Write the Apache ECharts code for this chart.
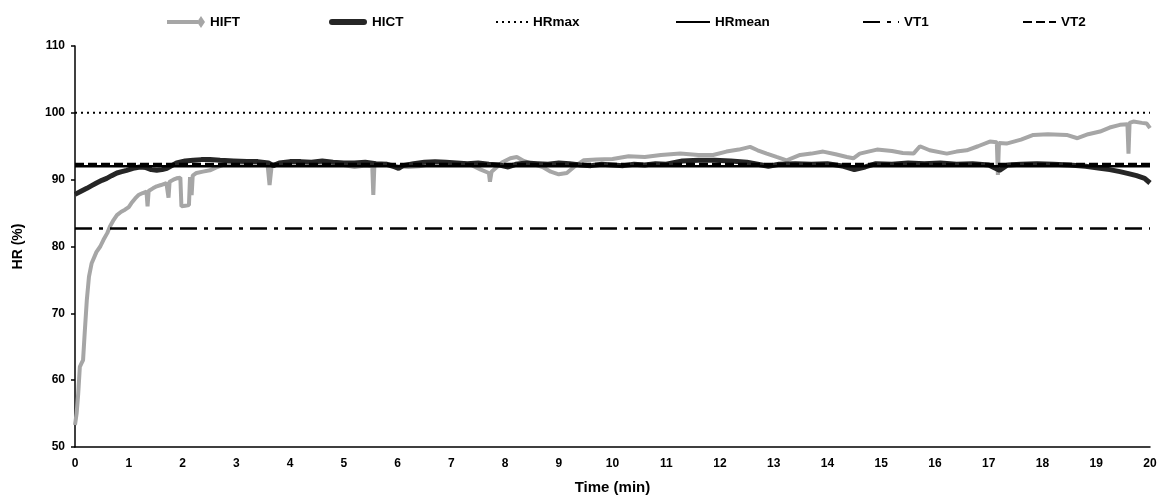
<!DOCTYPE html>
<html>
<head>
<meta charset="utf-8">
<script src="https://cdn.jsdelivr.net/npm/echarts@6/dist/echarts.min.js"></script>
<style>
  html, body { margin: 0; padding: 0; background: #fff; }
  #chart { width: 1157px; height: 496px; }
</style>
</head>
<body>
<div id="chart"></div>
<script>
// HIFT heart rate, [time (min), HR (%)]
const hiftData = [
  [0.00, 53.3], [0.03, 55.0], [0.06, 58.0], [0.09, 62.0], [0.12, 62.5], [0.15, 63.0],
  [0.18, 67.0], [0.22, 72.0], [0.26, 75.5], [0.31, 77.5], [0.40, 79.2], [0.47, 80.0],
  [0.53, 81.0], [0.60, 82.0], [0.65, 83.0], [0.72, 84.0], [0.78, 84.7], [0.86, 85.2],
  [0.93, 85.5], [1.00, 85.9], [1.05, 86.5], [1.12, 87.2], [1.18, 87.7], [1.26, 88.0],
  [1.33, 88.2], [1.35, 86.0], [1.37, 88.3], [1.45, 88.7], [1.52, 89.0], [1.60, 89.2],
  [1.70, 89.5], [1.74, 87.3], [1.76, 89.7], [1.83, 90.0], [1.89, 90.2], [1.96, 90.3],
  [1.98, 86.0], [2.05, 86.1], [2.12, 86.2], [2.14, 90.4], [2.17, 87.7], [2.19, 90.6],
  [2.26, 91.0], [2.38, 91.2], [2.51, 91.4], [2.62, 91.8], [2.76, 92.2], [2.90, 92.3],
  [3.05, 92.2], [3.20, 92.4], [3.40, 92.3], [3.58, 92.5], [3.62, 89.2], [3.66, 92.2],
  [3.80, 92.4], [4.00, 92.3], [4.20, 92.5], [4.40, 92.3], [4.60, 92.2], [4.80, 92.4],
  [5.00, 92.2], [5.20, 91.9], [5.40, 92.1], [5.53, 92.0], [5.55, 87.7], [5.57, 92.2],
  [5.80, 92.4], [6.00, 92.0], [6.20, 91.9], [6.40, 92.0], [6.60, 92.3], [6.80, 92.4],
  [7.00, 92.2], [7.20, 92.5], [7.40, 92.1], [7.55, 91.5], [7.70, 91.0], [7.72, 89.7],
  [7.75, 91.2], [7.85, 91.9], [7.95, 92.6], [8.10, 93.2], [8.22, 93.4], [8.35, 92.8],
  [8.50, 92.4], [8.70, 91.9], [8.85, 91.2], [9.00, 90.8], [9.15, 91.0], [9.30, 92.0],
  [9.46, 92.9], [9.70, 93.0], [10.00, 93.1], [10.30, 93.5], [10.60, 93.4], [10.90, 93.7],
  [11.26, 93.9], [11.60, 93.7], [11.87, 93.7], [12.12, 94.2], [12.35, 94.5], [12.56, 94.9],
  [12.70, 94.4], [12.87, 93.9], [13.05, 93.4], [13.24, 92.9], [13.49, 93.7], [13.70, 93.9],
  [13.92, 94.2], [14.15, 93.8], [14.36, 93.4], [14.48, 93.2], [14.60, 93.9], [14.92, 94.5],
  [15.20, 94.3], [15.40, 94.0], [15.60, 93.9], [15.72, 95.0], [15.90, 94.4], [16.22, 93.9],
  [16.40, 94.2], [16.59, 94.4], [16.80, 95.0], [17.02, 95.7], [17.15, 95.6], [17.17, 90.7],
  [17.19, 95.5], [17.33, 95.4], [17.60, 96.0], [17.83, 96.7], [18.10, 96.8], [18.45, 96.7],
  [18.65, 96.2], [18.85, 96.8], [19.07, 97.2], [19.25, 97.8], [19.44, 98.2], [19.58, 98.3],
  [19.60, 93.9], [19.62, 98.5], [19.69, 98.7], [19.85, 98.5], [19.94, 98.4], [20.00, 97.7]
];

// HICT heart rate, [time (min), HR (%)]
const hictData = [
  [0.00, 87.8], [0.03, 88.0], [0.12, 88.3], [0.22, 88.7], [0.31, 89.1], [0.40, 89.5],
  [0.50, 89.9], [0.59, 90.2], [0.68, 90.6], [0.78, 91.0], [0.87, 91.2], [0.96, 91.4],
  [1.08, 91.7], [1.21, 91.9], [1.32, 91.8], [1.42, 91.5], [1.52, 91.4], [1.62, 91.5],
  [1.71, 91.7], [1.80, 92.1], [1.89, 92.5], [2.05, 92.8], [2.20, 92.9], [2.35, 93.0],
  [2.51, 93.0], [2.70, 92.9], [2.95, 92.8], [3.20, 92.7], [3.40, 92.7], [3.60, 92.5],
  [3.69, 92.1], [3.80, 92.5], [4.00, 92.7], [4.20, 92.7], [4.40, 92.6], [4.60, 92.8],
  [4.80, 92.6], [5.00, 92.5], [5.20, 92.5], [5.40, 92.6], [5.60, 92.4], [5.80, 92.3],
  [5.95, 91.9], [6.02, 91.7], [6.10, 92.1], [6.30, 92.4], [6.50, 92.6], [6.70, 92.7],
  [6.90, 92.6], [7.10, 92.5], [7.30, 92.4], [7.50, 92.5], [7.70, 92.3], [7.90, 92.2],
  [8.06, 91.9], [8.20, 92.3], [8.40, 92.5], [8.60, 92.4], [8.80, 92.3], [9.00, 92.5],
  [9.20, 92.4], [9.40, 92.2], [9.60, 92.1], [9.80, 92.3], [10.00, 92.2], [10.20, 92.1],
  [10.40, 92.3], [10.60, 92.2], [10.80, 92.4], [11.00, 92.3], [11.30, 92.8], [11.60, 92.9],
  [11.90, 92.9], [12.20, 92.8], [12.50, 92.6], [12.70, 92.3], [12.90, 92.0], [13.10, 92.3],
  [13.40, 92.4], [13.70, 92.3], [14.00, 92.4], [14.30, 92.0], [14.50, 91.5], [14.70, 91.9],
  [14.90, 92.4], [15.20, 92.3], [15.50, 92.5], [15.80, 92.4], [16.10, 92.5], [16.40, 92.3],
  [16.70, 92.4], [17.00, 92.2], [17.20, 91.4], [17.35, 92.2], [17.60, 92.3], [17.90, 92.4],
  [18.20, 92.3], [18.50, 92.2], [18.80, 92.0], [19.07, 91.7], [19.25, 91.5], [19.44, 91.2],
  [19.60, 90.9], [19.75, 90.6], [19.90, 90.2], [20.00, 89.5]
];

// reference levels (HR %)
const hrMax = 100;
const hrMean = 92.0;
const vt1 = 82.7;
const vt2 = 92.35;
const timeRange = [0, 20];

const font = '"Liberation Sans", Arial, sans-serif';

function flat(v) {
  return timeRange.map(t => [t, v]);
}

function refLine(name, v, type, width) {
  return {
    name: name,
    type: 'line',
    data: flat(v),
    symbol: 'none',
    silent: true,
    z: 5,
    lineStyle: { color: '#000', width: width, type: type },
    itemStyle: { color: '#000', opacity: 0 }
  };
}

// one legend per entry so each sits where it does in the original
function legendAt(name, left, width, icon) {
  return {
    top: 10,
    left: left,
    itemWidth: width,
    itemHeight: 12,
    textStyle: { fontFamily: font, fontWeight: 'bold', fontSize: 13.5, color: '#000' },
    data: [icon ? { name: name, icon: icon } : name]
  };
}

const chart = echarts.init(document.getElementById('chart'));
chart.setOption({
  animation: false,
  grid: { left: 75, right: 7, top: 46, bottom: 49, outerBoundsMode: 'none' },
  legend: [
    legendAt('HIFT', 162, 38, 'path://M0,4 L31,4 L31,8 L0,8 Z M34,0 L38,6 L34,12 L30,6 Z'),
    legendAt('HICT', 324, 38, 'path://M3,3 L35,3 Q38,3 38,6 Q38,9 35,9 L3,9 Q0,9 0,6 Q0,3 3,3 Z'),
    legendAt('HRmax', 490, 32),
    legendAt('HRmean', 670, 34),
    legendAt('VT1', 857, 36),
    legendAt('VT2', 1017, 33)
  ],
  xAxis: {
    type: 'value',
    min: 0,
    max: 20,
    interval: 1,
    name: 'Time (min)',
    nameLocation: 'middle',
    nameGap: 33,
    nameTextStyle: { fontFamily: font, fontWeight: 'bold', fontSize: 15, color: '#000' },
    axisLine: { lineStyle: { color: '#000', width: 1.5 } },
    axisTick: { show: false },
    splitLine: { show: false },
    axisLabel: { fontFamily: font, fontWeight: 'bold', fontSize: 12, color: '#000', margin: 11 }
  },
  yAxis: {
    type: 'value',
    min: 50,
    max: 110,
    interval: 10,
    name: 'HR (%)',
    nameLocation: 'middle',
    nameGap: 50,
    nameTextStyle: { fontFamily: font, fontWeight: 'bold', fontSize: 14, color: '#000' },
    axisLine: { show: true, lineStyle: { color: '#000', width: 1.5 } },
    axisTick: { show: true, length: 4, lineStyle: { color: '#000', width: 1.5 } },
    splitLine: { show: false },
    axisLabel: { fontFamily: font, fontWeight: 'bold', fontSize: 12, color: '#000', margin: 10 }
  },
  series: [
    {
      name: 'HIFT',
      type: 'line',
      data: hiftData,
      symbol: 'none',
      z: 2,
      lineStyle: { color: '#a6a6a6', width: 4 },
      itemStyle: { color: '#a6a6a6' }
    },
    {
      name: 'HICT',
      type: 'line',
      data: hictData,
      symbol: 'none',
      z: 3,
      lineStyle: { color: '#262626', width: 5 },
      itemStyle: { color: '#262626' }
    },
    refLine('HRmax', hrMax, [2, 4], 2),
    refLine('HRmean', hrMean, 'solid', 2.5),
    refLine('VT1', vt1, [17, 7, 4, 7], 2.5),
    refLine('VT2', vt2, [9, 4], 2.5)
  ]
});
</script>
</body>
</html>
